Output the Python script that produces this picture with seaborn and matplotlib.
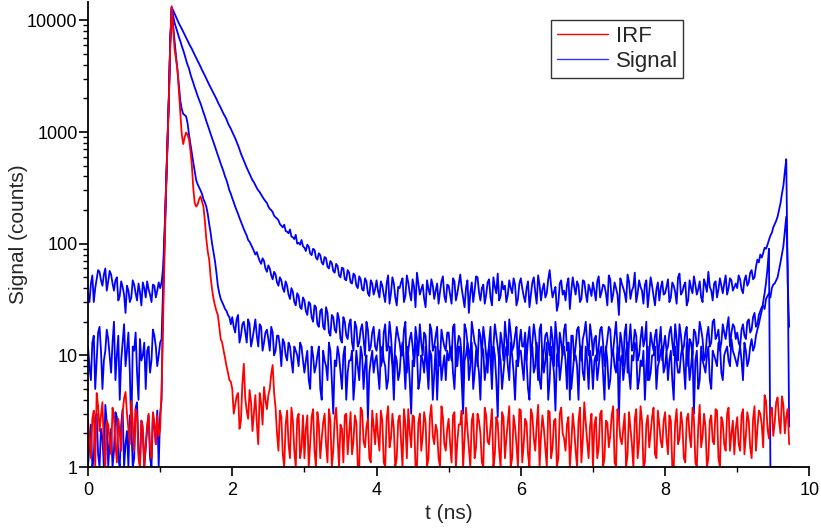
import numpy as np
import pandas as pd
import matplotlib
matplotlib.use("Agg")
import matplotlib.pyplot as plt
import seaborn as sns
from matplotlib import ticker
from matplotlib.lines import Line2D

# ---------------- data (counts) ----------------
# "*_even" holds the samples at t = 0.00, 0.04, ... 9.72 ns,
# "*_odd"  holds the samples at t = 0.02, 0.06, ... 9.70 ns.
T_STEP = 0.02  # ns between consecutive samples after merging

irf_even = [
    2.6, 1.2, 3.2, 4.6, 2.1, 3.8, 1.0, 2.4, 1.3, 2.8, 1.1, 2.0, 3.1, 4.7, 2.2, 3.9, 1.4, 2.9, 1.0, 2.3, 1.6, 3.0, 1.2, 2.5, 2.9,
    2.2, 20, 280, 1800, 13400, 5500, 3600, 1500, 780, 990, 860, 500, 230, 225, 265, 215, 110, 72, 39, 28, 23, 14, 11, 8, 6,
    5.0, 3.6, 4.6, 2.6, 8.4, 3.2, 4.9, 2.1, 4.4, 1.6, 3.7, 5.2, 3.3, 5.0, 8.2, 3.4, 1.4, 2.8, 1.0, 3.2, 1.2, 2.6, 1.0, 3.0, 1.5,
    1.2, 2.9, 1.6, 3.3, 1.0, 2.4, 1.8, 3.0, 1.1, 2.6, 1.4, 3.4, 1.0, 2.2, 2.9, 1.3, 3.1, 1.7, 2.5, 1.0, 3.2, 1.5, 2.7, 1.1, 2.3,
    3.0, 1.4, 2.6, 1.0, 3.5, 1.8, 2.2, 1.2, 2.9, 1.0, 2.4, 3.3, 1.5, 2.8, 1.0, 3.0, 1.9, 2.5, 1.2, 3.6, 1.6, 2.1, 1.0, 2.8, 1.4,
    2.7, 1.1, 3.1, 1.7, 2.4, 1.0, 3.4, 1.5, 2.6, 1.2, 3.0, 2.0, 1.0, 2.9, 1.6, 3.3, 1.3, 2.5, 1.0, 2.8, 1.8, 3.5, 1.2, 2.3, 1.0,
    3.2, 1.6, 2.5, 1.0, 2.9, 1.4, 3.6, 1.9, 2.2, 1.0, 3.1, 1.5, 2.7, 1.2, 3.4, 1.8, 2.4, 1.0, 3.0, 1.4, 2.6, 1.1, 3.8, 1.7, 2.3,
    1.0, 2.8, 1.5, 3.2, 1.2, 2.5, 1.9, 3.5, 1.0, 2.7, 1.6, 3.0, 1.3, 2.2, 1.0, 3.3, 1.7, 2.6, 1.1, 2.9, 2.0, 3.4, 1.2, 2.4, 1.5,
    3.1, 1.3, 2.6, 1.0, 3.3, 1.8, 2.4, 1.1, 3.0, 1.5, 2.7, 1.0, 3.6, 1.9, 2.3, 1.2, 2.9, 1.6, 3.2, 1.0, 2.5, 1.4, 3.4, 2.0, 1.3,
    2.8, 1.4, 3.3, 1.9, 2.6, 1.2, 3.5, 2.2, 3.0, 1.5, 3.9, 1.8, 3.4, 2.5, 4.2, 2.0, 3.6, 2.8, 1.6,
]
irf_odd = [
    1.8, 2.7, 1.0, 3.5, 2.9, 1.5, 2.6, 1.7, 3.4, 1.6, 2.7, 1.4, 4.1, 3.0, 1.6, 2.5, 3.3, 1.2, 2.6, 1.0, 2.4, 1.5, 3.1, 1.6, 1.9,
    5, 75, 700, 6000, 8500, 4500, 2300, 950, 900, 940, 680, 310, 215, 250, 240, 160, 85, 50, 32, 25, 18, 13, 9.5, 7, 5.8,
    3.0, 4.3, 2.2, 5.6, 4.1, 2.7, 3.8, 3.0, 2.5, 4.6, 2.4, 4.0, 4.4, 6.8, 4.6, 2.0, 3.2, 1.3, 2.4, 1.6, 3.4, 1.4, 2.7, 1.2, 2.9,
    2.2, 1.0, 2.8, 1.4, 3.1, 1.2, 2.5, 1.6, 3.3, 1.0, 2.7, 1.8, 2.4, 1.1, 3.0, 2.0, 1.3, 2.9, 1.0, 3.4, 1.7, 2.3, 1.2, 3.2, 1.6,
    1.9, 3.2, 1.1, 2.7, 1.5, 3.0, 1.0, 2.6, 1.7, 3.3, 1.2, 2.1, 2.9, 1.0, 2.5, 1.4, 3.1, 1.0, 2.8, 1.9, 2.4, 1.2, 3.5, 1.6, 2.2,
    1.6, 2.9, 1.0, 2.4, 3.2, 1.8, 2.2, 1.0, 3.0, 1.5, 2.6, 1.1, 3.4, 1.7, 2.3, 1.0, 2.8, 1.4, 3.1, 1.2, 2.5, 1.0, 2.9, 1.6, 3.3,
    1.1, 2.7, 1.3, 3.3, 1.8, 2.4, 1.0, 2.9, 1.5, 3.2, 1.2, 2.6, 1.0, 3.0, 2.0, 1.4, 2.8, 1.6, 2.2, 1.0, 3.4, 1.8, 2.5, 1.2, 3.0,
    2.4, 1.2, 3.0, 1.0, 2.6, 1.5, 2.9, 1.1, 3.3, 1.8, 2.2, 1.0, 3.1, 1.6, 2.7, 1.2, 3.5, 1.0, 2.4, 1.5, 2.8, 1.3, 3.2, 1.7, 2.6,
    1.8, 2.9, 1.0, 2.5, 1.6, 3.1, 1.2, 2.7, 1.9, 3.4, 1.1, 2.3, 1.5, 3.0, 1.0, 2.6, 1.7, 3.3, 1.2, 2.8, 1.6, 3.0, 1.4, 2.6, 2.2,
    1.6, 2.9, 1.3, 3.1, 1.5, 2.7, 1.4, 3.2, 2.4, 4.4, 2.2, 3.0, 1.9, 3.8, 2.6, 4.3, 2.0, 3.3,
]

slow_even = [
    36, 44, 30, 48, 56, 42, 60, 46, 53, 38, 50, 34, 41, 24, 38, 33, 43, 31, 37, 45, 33, 39, 30, 42, 38,
    40, 60, 300, 2000, 13000, 11500, 10000, 8900, 7900, 7000, 6200, 5550, 4900, 4350, 3850,
    3400, 3000, 2650, 2370, 2100, 1850, 1650, 1450, 1300, 1130,
    1000, 880, 760, 640, 550, 480, 420, 370, 335, 300, 275, 250, 232, 205, 192, 172, 162, 145, 148, 128, 134, 114, 120, 102, 108,
    92, 98, 82, 90, 75, 82, 68, 76, 62, 70, 57, 66, 52, 61, 48, 58, 45, 54, 42, 51, 39, 49, 36, 47, 35,
    47, 33, 42, 30, 52, 36, 44, 28, 40, 49, 34, 45, 31, 41, 55, 35, 43, 27, 39, 48, 32, 44, 37, 51, 30,
    42, 29, 46, 36, 53, 33, 40, 24, 45, 38, 50, 31, 43, 35, 48, 28, 41, 54, 34, 39, 30, 47, 36, 43, 32,
    49, 34, 40, 27, 45, 37, 52, 31, 44, 36, 58, 33, 41, 29, 47, 38, 43, 26, 50, 35, 42, 32, 46, 30, 39,
    45, 31, 51, 37, 42, 28, 48, 35, 40, 23, 44, 36, 53, 32, 41, 30, 47, 38, 43, 27, 50, 34, 39, 31, 46,
    36, 48, 33, 42, 29, 54, 37, 45, 31, 40, 51, 35, 46, 30, 43, 56, 38, 44, 33, 49, 36, 52, 40, 47, 41,
    40, 48, 36, 52, 45, 58, 50, 72, 80, 82, 90, 108, 125, 150, 175, 230, 330, 570, 18,
]
slow_odd = [
    30, 52, 40, 58, 47, 53, 38, 57, 44, 47, 31, 46, 35, 42, 30, 47, 36, 44, 28, 40, 46, 35, 43, 33, 45,
    45, 120, 800, 6500, 12300, 10700, 9400, 8400, 7400, 6600, 5850, 5200, 4600, 4100, 3600,
    3200, 2820, 2500, 2230, 1980, 1750, 1550, 1380, 1200, 1070,
    940, 820, 700, 595, 515, 450, 395, 355, 315, 290, 262, 240, 215, 200, 178, 168, 150, 140, 130, 124, 116, 110, 100, 98, 95,
    86, 94, 79, 88, 72, 79, 65, 74, 60, 67, 55, 63, 50, 60, 47, 55, 44, 52, 40, 48, 38, 46, 34, 44, 39,
    38, 46, 35, 44, 29, 50, 33, 41, 45, 30, 52, 36, 48, 27, 44, 39, 32, 47, 35, 42, 38, 29, 46, 34, 43,
    35, 49, 31, 44, 40, 27, 47, 36, 30, 51, 37, 40, 29, 45, 33, 50, 36, 31, 46, 42, 35, 40, 49, 28, 44,
    40, 30, 46, 35, 50, 29, 43, 39, 33, 48, 42, 37, 25, 44, 35, 31, 49, 38, 41, 46, 30, 47, 36, 43, 34,
    38, 46, 33, 43, 36, 52, 30, 45, 35, 49, 40, 30, 46, 38, 55, 36, 41, 29, 47, 37, 42, 28, 45, 40, 35,
    41, 30, 45, 37, 50, 35, 42, 28, 47, 36, 43, 39, 33, 48, 37, 41, 31, 46, 39, 42, 44, 35, 49, 38, 44,
    52, 39, 47, 42, 55, 48, 62, 68, 75, 92, 98, 118, 140, 160, 200, 280, 440, 45,
]

mid_even = [
    12, 6, 15, 9, 18, 5, 11, 14, 7, 20, 10, 4, 13, 8, 16, 2, 11, 7, 14, 10, 5, 12, 9, 15, 8,
    13, 40, 290, 2000, 13000, 9500, 7800, 6500, 5400, 4400, 3700, 3000, 2500, 2100, 1800,
    1500, 1250, 1050, 880, 740, 620, 520, 440, 370, 300,
    255, 215, 185, 158, 135, 118, 104, 92, 80, 76, 66, 70, 56, 60, 48, 53, 42, 47, 37, 42, 32, 37, 28, 34, 26,
    31, 23, 29, 20, 27, 18, 26, 17, 24, 15, 22, 16, 21, 13, 20, 14, 21, 11, 18, 13, 19, 10, 17, 12, 18,
    11, 17, 9, 19, 12, 15, 7, 18, 13, 10, 20, 11, 16, 8, 14, 19, 10, 15, 6, 17, 12, 18, 9, 14, 11,
    16, 9, 19, 12, 14, 5, 17, 11, 20, 13, 8, 15, 18, 10, 13, 7, 19, 12, 16, 9, 14, 21, 11, 15, 8,
    17, 12, 9, 18, 13, 15, 6, 19, 11, 16, 10, 14, 20, 8, 13, 17, 11, 4, 15, 12, 18, 9, 16, 13, 19,
    10, 15, 12, 18, 8, 14, 17, 11, 20, 9, 13, 16, 7, 19, 12, 15, 10, 18, 14, 6, 16, 11, 17, 13, 9,
    15, 12, 18, 10, 14, 19, 11, 16, 8, 13, 17, 12, 20, 14, 10, 18, 13, 21, 15, 11, 19, 14, 22, 16, 18,
    16, 12, 19, 14, 21, 17, 24, 19, 25, 28, 32, 36, 40, 44, 50, 68, 95, 175, 2.3,
]
mid_odd = [
    8, 13, 5, 16, 11, 9, 17, 10, 13, 6, 15, 9, 19, 11, 7, 12, 16, 4, 9, 13, 11, 7, 17, 12, 10,
    14, 110, 800, 6500, 11000, 8600, 7100, 5900, 4900, 4000, 3300, 2750, 2300, 1950, 1650,
    1380, 1150, 960, 810, 680, 570, 480, 400, 335, 280,
    235, 200, 170, 146, 126, 108, 98, 86, 84, 70, 74, 60, 64, 52, 56, 45, 50, 40, 46, 35, 40, 30, 36, 27, 33,
    25, 30, 22, 28, 19, 25, 18, 27, 16, 23, 17, 24, 14, 22, 15, 19, 13, 20, 12, 17, 14, 20, 11, 16, 12,
    14, 8, 16, 11, 20, 9, 13, 15, 10, 17, 7, 14, 12, 18, 10, 13, 16, 9, 19, 11, 15, 8, 17, 12, 16,
    11, 18, 8, 15, 10, 19, 13, 9, 16, 12, 17, 10, 14, 7, 18, 12, 15, 9, 13, 20, 10, 16, 12, 18, 13,
    12, 16, 14, 10, 19, 11, 17, 9, 15, 13, 18, 8, 14, 16, 10, 19, 13, 15, 9, 17, 12, 14, 20, 10, 15,
    14, 9, 17, 13, 11, 18, 10, 15, 12, 16, 8, 19, 13, 11, 17, 9, 14, 12, 20, 10, 13, 15, 9, 18, 12,
    11, 16, 13, 19, 9, 15, 12, 18, 14, 10, 16, 13, 17, 9, 15, 12, 20, 14, 17, 13, 16, 18, 12, 19, 14,
    13, 17, 15, 20, 16, 22, 18, 23, 27, 26, 34, 33, 43, 47, 58, 80, 130, 60,
]

fast_even = [
    1.0, 2.4, 1.2, 3.0, 1.0, 1.8, 3.6, 1.0, 2.2, 1.4, 2.8, 1.0, 3.3, 1.6, 1.0, 2.5, 1.2, 3.8, 1.0, 2.0, 1.5, 2.9, 1.0, 2.3, 3.2,
    3, 30, 270, 1900, 13000, 6500, 3600, 1900, 1450, 1380, 950, 640, 440, 340, 300,
    250, 215, 150, 100, 70, 42, 32, 28, 25, 22,
    22, 16, 23, 15, 20, 13, 19, 14, 21, 12, 18, 13, 17, 11, 16, 11, 15, 8, 13, 9, 12, 7, 11, 8, 12,
    7, 11, 5, 10, 8, 12, 4, 9, 6, 11, 3, 8, 10, 5, 12, 7, 9, 4, 11, 6, 10, 8, 2.6, 9, 7,
    10, 5, 12, 8, 6, 11, 4, 9, 7, 13, 5, 10, 3, 8, 11, 6, 9, 12, 5, 10, 7, 4, 11, 8, 6,
    9, 12, 5, 8, 11, 3, 10, 6, 13, 7, 9, 4, 11, 8, 12, 5, 10, 2.8, 9, 7, 12, 6, 10, 4, 8,
    11, 6, 9, 4, 12, 8, 10, 5, 7, 13, 6, 9, 3.2, 11, 8, 12, 5, 9, 7, 10, 4, 12, 6, 9, 11,
    5, 10, 8, 12, 4, 9, 6, 11, 7, 2.7, 10, 8, 13, 5, 9, 11, 6, 8, 4, 12, 7, 10, 5, 9, 12,
    8, 6, 11, 4, 9, 7, 12, 5, 10, 8, 3, 11, 6, 9, 7, 12, 5, 10, 8, 13, 6, 11, 9, 14, 10,
    8, 12, 6, 11, 9, 14, 12, 17, 22, 30, 45, 90, 1, 1, 1, 1, 1, 1, 1,
]
fast_odd = [
    1.6, 1.0, 2.7, 1.3, 2.2, 1.0, 2.5, 1.7, 1.0, 3.1, 1.2, 2.4, 1.0, 2.1, 2.9, 1.0, 3.4, 1.4, 2.6, 1.0, 2.2, 1.2, 3.0, 1.6, 1.0,
    4, 100, 750, 6300, 9000, 4800, 2600, 1600, 1420, 1200, 780, 530, 370, 320, 280,
    235, 185, 125, 84, 55, 36, 30, 26, 23, 19,
    18, 21, 13, 19, 16, 21, 12, 17, 15, 19, 11, 16, 14, 18, 10, 15, 12, 14, 10, 13, 9, 12, 10, 13, 9,
    9, 6, 12, 7, 10, 5, 11, 8, 13, 6, 9, 12, 7, 10, 4, 9, 11, 6, 8, 12, 5, 10, 7, 11, 9,
    7, 11, 9, 5, 12, 8, 10, 6, 11, 9, 12, 6, 9, 13, 5, 10, 7, 8, 11, 4, 12, 9, 6, 10, 11,
    11, 7, 10, 12, 6, 9, 13, 8, 5, 11, 7, 12, 6, 10, 9, 12, 6, 11, 5, 10, 8, 13, 7, 9, 11,
    8, 12, 5, 10, 7, 13, 6, 11, 9, 4, 12, 7, 10, 6, 11, 9, 13, 5, 10, 8, 11, 7, 12, 5, 9,
    9, 6, 11, 7, 12, 5, 10, 8, 12, 9, 6, 11, 7, 10, 13, 5, 9, 11, 8, 6, 10, 12, 8, 11, 7,
    11, 9, 6, 12, 7, 10, 8, 13, 6, 11, 9, 5, 12, 8, 10, 6, 11, 9, 13, 7, 10, 12, 8, 11, 9,
    10, 9, 13, 8, 12, 11, 15, 19, 25, 36, 60, 1, 1, 1, 1, 1, 1, 1,
]

series = {
    "Signal A": (slow_even, slow_odd),
    "Signal B": (mid_even, mid_odd),
    "Signal C": (fast_even, fast_odd),
    "IRF": (irf_even, irf_odd),
}
colors = {"IRF": "#ff0000", "Signal A": "#0000ff", "Signal B": "#0000ff", "Signal C": "#0000ff"}

frames = []
for name, (ev, od) in series.items():
    assert len(ev) == 244, (name, len(ev))
    assert len(od) == 243, (name, len(od))
    merged = []
    for i, v in enumerate(ev):
        merged.append(v)
        if i < len(od):
            merged.append(od[i])
    frames.append(pd.DataFrame({"t": np.arange(len(merged)) * T_STEP, "counts": merged, "trace": name}))
data = pd.concat(frames, ignore_index=True)

# ---------------- style ----------------
sns.set_theme(style="ticks")
plt.rcParams["font.family"] = ["Liberation Sans", "DejaVu Sans"]
plt.rcParams["axes.linewidth"] = 1.3

fig = plt.figure(figsize=(8.21, 5.28), dpi=100)
ax = fig.add_axes([0.1072, 0.1155, 0.8786, 0.8807])

for name in ["Signal A", "Signal B", "Signal C", "IRF"]:
    sns.lineplot(data=data[data["trace"] == name], x="t", y="counts", color=colors[name],
                 estimator=None, sort=False, lw=1.3, ax=ax, legend=False)

ax.set_yscale("log")
ax.set_xlim(0, 10)
ax.set_ylim(1, 14600)

ax.xaxis.set_major_locator(ticker.MultipleLocator(2))
ax.xaxis.set_minor_locator(ticker.MultipleLocator(1))
ax.xaxis.set_major_formatter(ticker.FormatStrFormatter("%d"))
ax.yaxis.set_major_locator(ticker.FixedLocator([1, 10, 100, 1000, 10000]))
ax.yaxis.set_major_formatter(ticker.FuncFormatter(lambda v, p: f"{v:.0f}"))
ax.yaxis.set_minor_locator(ticker.LogLocator(base=10, subs=np.arange(2, 10)))
ax.yaxis.set_minor_formatter(ticker.NullFormatter())

ax.tick_params(which="major", direction="out", length=6.5, width=1.2, labelsize=13, colors="black")
ax.tick_params(axis="y", which="major", pad=1)
ax.tick_params(axis="x", which="major", pad=4)
ax.tick_params(which="minor", direction="out", length=3.5, width=1.0, colors="black")

for s in ["top", "right"]:
    ax.spines[s].set_visible(False)
for s in ["left", "bottom"]:
    ax.spines[s].set_color("black")

ax.set_xlabel("t (ns)", fontsize=15, labelpad=4)
ax.set_ylabel("Signal (counts)", fontsize=15, labelpad=-1)

handles = [Line2D([], [], color="#ff0000", lw=1.0), Line2D([], [], color="#0000ff", lw=1.0, alpha=0.8)]
leg = ax.legend(handles, ["IRF", "Signal"], loc="upper left", bbox_to_anchor=(0.642, 0.961),
                borderaxespad=0, fontsize=16, handlelength=2.3, handletextpad=0.35,
                borderpad=0.25, labelspacing=0.2, fancybox=False, framealpha=1)
leg.get_frame().set_edgecolor("#333333")
leg.get_frame().set_linewidth(1.0)

fig.savefig("out.png", dpi=100)
